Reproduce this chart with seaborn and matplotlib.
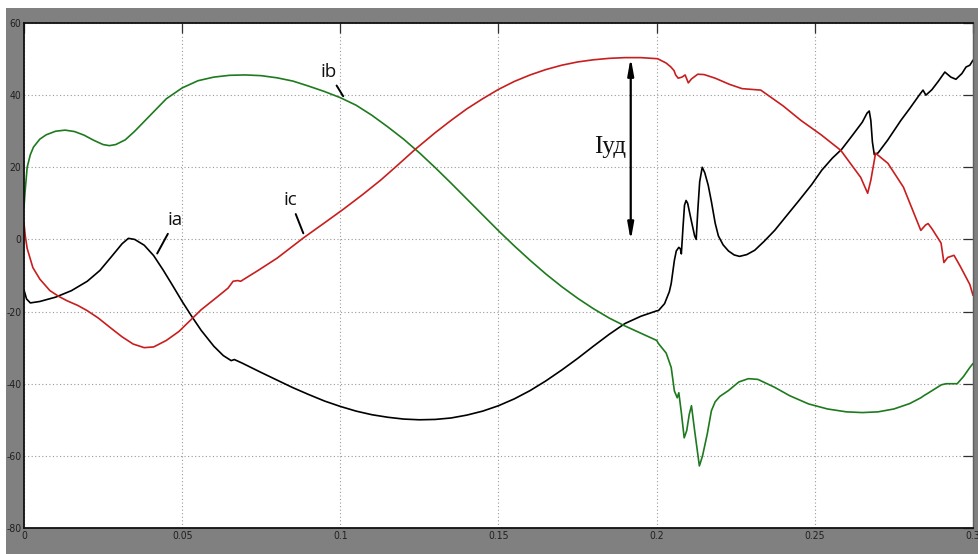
import numpy as np
import pandas as pd
import matplotlib
matplotlib.use("Agg")
import matplotlib.pyplot as plt
from matplotlib.patches import Rectangle
import seaborn as sns

# Phase currents of a short-circuit transient, time in seconds, current in amperes
t_a = [0.0000, 0.0008, 0.0020, 0.0050, 0.0100, 0.0150, 0.0200, 0.0240, 0.0280, 0.0310,
       0.0330, 0.0350, 0.0380, 0.0410, 0.0440, 0.0470, 0.0500, 0.0530, 0.0560, 0.0600,
       0.0630, 0.0655, 0.0665, 0.0690, 0.0750, 0.0800, 0.0850, 0.0900, 0.0950, 0.1000,
       0.1050, 0.1100, 0.1150, 0.1200, 0.1250, 0.1300, 0.1350, 0.1400, 0.1450, 0.1500,
       0.1550, 0.1600, 0.1650, 0.1700, 0.1750, 0.1800, 0.1850, 0.1900, 0.1950, 0.2000,
       0.2006, 0.2025, 0.2040, 0.2046, 0.2056, 0.2062, 0.2070, 0.2075, 0.2078, 0.2083,
       0.2088, 0.2093, 0.2098, 0.2110, 0.2120, 0.2125, 0.2130, 0.2136, 0.2144, 0.2152,
       0.2163, 0.2173, 0.2185, 0.2195, 0.2210, 0.2227, 0.2245, 0.2262, 0.2285, 0.2310,
       0.2340, 0.2373, 0.2410, 0.2450, 0.2490, 0.2522, 0.2555, 0.2585, 0.2620, 0.2650,
       0.2665, 0.2672, 0.2677, 0.2682, 0.2688, 0.2700, 0.2730, 0.2772, 0.2800, 0.2830,
       0.2842, 0.2851, 0.2870, 0.2890, 0.2911, 0.2930, 0.2946, 0.2965, 0.2978, 0.2990,
       0.3000]
i_a = [-14.0, -16.5, -17.6, -17.2, -16.0, -14.2, -11.6, -8.6, -4.4, -1.2,
       0.3, 0.0, -1.6, -4.5, -8.5, -12.8, -17.2, -21.3, -25.2, -29.6,
       -32.2, -33.6, -33.3, -34.3, -36.9, -39.0, -41.1, -43.0, -44.8, -46.3,
       -47.6, -48.6, -49.3, -49.8, -50.0, -49.9, -49.5, -48.7, -47.6, -46.1,
       -44.2, -41.9, -39.2, -36.2, -33.0, -29.6, -26.3, -23.3, -21.3, -19.8,
       -19.7, -17.8, -14.5, -12.2, -5.8, -3.2, -2.2, -2.6, -4.0, 3.0,
       9.5, 10.8, 10.0, 5.0, 1.0, 0.0, 8.0, 16.0, 20.0, 18.5,
       15.0, 10.5, 4.5, 1.0, -1.5, -3.2, -4.3, -4.7, -4.2, -3.0,
       -0.5, 2.5, 6.5, 10.8, 15.2, 19.2, 22.5, 25.0, 29.0, 32.5,
       35.0, 35.6, 33.0, 27.0, 23.5, 24.0, 27.5, 33.0, 36.3, 40.0,
       41.4, 40.0, 41.5, 43.8, 46.4, 45.0, 44.4, 46.0, 47.8, 48.3,
       49.7]

t_b = [0.0000, 0.0003, 0.0010, 0.0020, 0.0030, 0.0050, 0.0070, 0.0100, 0.0130, 0.0160,
       0.0190, 0.0220, 0.0250, 0.0270, 0.0290, 0.0320, 0.0350, 0.0400, 0.0450, 0.0500,
       0.0550, 0.0600, 0.0650, 0.0700, 0.0750, 0.0800, 0.0850, 0.0900, 0.0950, 0.1000,
       0.1050, 0.1100, 0.1150, 0.1200, 0.1250, 0.1300, 0.1350, 0.1400, 0.1450, 0.1500,
       0.1550, 0.1600, 0.1650, 0.1700, 0.1750, 0.1800, 0.1850, 0.1900, 0.1950, 0.2000,
       0.2006, 0.2030, 0.2046, 0.2056, 0.2065, 0.2070, 0.2078, 0.2087, 0.2095, 0.2103,
       0.2110, 0.2120, 0.2135, 0.2145, 0.2160, 0.2173, 0.2185, 0.2200, 0.2227, 0.2260,
       0.2290, 0.2320, 0.2373, 0.2420, 0.2480, 0.2540, 0.2600, 0.2650, 0.2700, 0.2750,
       0.2800, 0.2835, 0.2845, 0.2860, 0.2900, 0.2915, 0.2950, 0.2970, 0.2990, 0.3000]
i_b = [9.0, 12.8, 20.0, 23.5, 25.6, 27.8, 29.0, 30.0, 30.3, 29.9,
       28.9, 27.5, 26.3, 26.0, 26.3, 27.6, 30.0, 34.5, 39.0, 42.0,
       44.0, 45.0, 45.5, 45.6, 45.4, 44.8, 43.9, 42.5, 41.0, 39.3,
       37.2, 34.4, 31.2, 27.8, 24.0, 19.9, 15.6, 11.2, 6.8, 2.4,
       -1.8, -5.8, -9.6, -13.1, -16.3, -19.2, -21.8, -24.0, -26.0, -28.0,
       -28.9, -31.5, -35.5, -42.0, -43.9, -42.5, -48.0, -55.0, -53.0, -48.5,
       -46.1, -53.0, -62.8, -60.0, -53.9, -47.5, -45.0, -43.5, -41.9, -39.5,
       -38.6, -38.8, -41.0, -43.3, -45.6, -47.0, -47.8, -48.0, -47.8, -47.0,
       -45.5, -43.9, -43.3, -42.5, -40.3, -40.0, -40.0, -38.0, -35.5, -34.4]

t_c = [0.0000, 0.0004, 0.0010, 0.0028, 0.0050, 0.0082, 0.0110, 0.0136, 0.0170, 0.0199,
       0.0235, 0.0272, 0.0310, 0.0345, 0.0380, 0.0410, 0.0450, 0.0490, 0.0525, 0.0560,
       0.0610, 0.0645, 0.0661, 0.0675, 0.0685, 0.0740, 0.0800, 0.0883, 0.0950, 0.1010,
       0.1070, 0.1127, 0.1180, 0.1237, 0.1300, 0.1350, 0.1400, 0.1450, 0.1500, 0.1550,
       0.1600, 0.1650, 0.1700, 0.1750, 0.1800, 0.1850, 0.1900, 0.1950, 0.2003, 0.2030,
       0.2045, 0.2055, 0.2060, 0.2068, 0.2080, 0.2090, 0.2100, 0.2110, 0.2130, 0.2150,
       0.2185, 0.2230, 0.2270, 0.2329, 0.2400, 0.2456, 0.2520, 0.2582, 0.2645, 0.2667,
       0.2677, 0.2692, 0.2731, 0.2780, 0.2835, 0.2850, 0.2858, 0.2870, 0.2899, 0.2908,
       0.2920, 0.2940, 0.2960, 0.2978, 0.2990, 0.3000]
i_c = [4.5, 1.0, -2.5, -7.8, -11.0, -14.2, -15.8, -17.0, -18.3, -19.7,
       -21.8, -24.4, -27.0, -29.0, -30.0, -29.8, -28.0, -25.5, -22.5, -19.5,
       -16.0, -13.5, -11.6, -11.4, -11.6, -8.6, -5.2, 0.4, 4.6, 8.4,
       12.4, 16.4, 20.5, 25.0, 29.6, 33.0, 36.2, 39.0, 41.6, 43.8,
       45.6, 47.1, 48.3, 49.2, 49.8, 50.2, 50.4, 50.4, 50.1, 48.9,
       47.8, 46.8, 45.6, 44.7, 45.0, 45.6, 43.4, 44.5, 45.8, 45.7,
       44.7, 43.0, 41.8, 41.4, 37.0, 33.0, 29.0, 24.7, 17.2, 12.8,
       16.4, 23.9, 21.1, 14.5, 2.5, 4.0, 4.4, 3.0, -1.0, -6.4,
       -5.0, -4.4, -7.5, -10.5, -12.5, -15.5]

phases = ["ia", "ib", "ic"]
phase_colors = {"ia": "#000000", "ib": "#1e7a1e", "ic": "#c81e1e"}

x_ticks = [0, 0.05, 0.1, 0.15, 0.2, 0.25, 0.3]
x_tick_labels = ["0", "0.05", "0.1", "0.15", "0.2", "0.25", "0.3"]
y_ticks = [-80, -60, -40, -20, 0, 20, 40, 60]
y_tick_labels = ["-80", "-60", "-40", "-20", "0", "20", "40", "60"]

# Peak (surge) current marker: time and the current range it spans
t_peak = 0.1918
i_peak_top = 50.4
i_peak_bottom = -0.3

df = pd.concat([
    pd.DataFrame({"t": t_a, "i": i_a, "phase": "ia"}),
    pd.DataFrame({"t": t_b, "i": i_b, "phase": "ib"}),
    pd.DataFrame({"t": t_c, "i": i_c, "phase": "ic"}),
], ignore_index=True)

sns.set_style("white")
plt.rcParams["font.family"] = ["DejaVu Sans"]

W, H = 979, 554
fig = plt.figure(figsize=(W / 100, H / 100), dpi=100, facecolor="#808080")
# thin white margins along the top and left edges
fig.patches.append(Rectangle((0, 1 - 8 / H), 1, 8 / H, transform=fig.transFigure,
                             facecolor="white", edgecolor="none", zorder=-10))
fig.patches.append(Rectangle((0, 0), 6 / W, 1, transform=fig.transFigure,
                             facecolor="white", edgecolor="none", zorder=-10))

ax = fig.add_axes([24 / W, 26 / H, (973 - 24) / W, (528 - 23) / H])
ax.set_facecolor("white")

sns.lineplot(data=df, x="t", y="i", hue="phase", hue_order=phases, palette=phase_colors,
             estimator=None, sort=False, legend=False, linewidth=1.2, ax=ax)

ax.set_xlim(0, 0.3)
ax.set_ylim(-80, 60)
ax.set_xticks(x_ticks)
ax.set_xticklabels(x_tick_labels)
ax.set_yticks(y_ticks)
ax.set_yticklabels(y_tick_labels)
ax.set_xlabel("")
ax.set_ylabel("")

ax.grid(True, linestyle=(0, (1, 2.2)), color="#9a9a9a", linewidth=0.8)
ax.tick_params(direction="in", length=7, width=0.9, color="#303030",
               top=True, right=True, labelsize=7.5, labelcolor="#202020", pad=2)
for lab in ax.get_xticklabels() + ax.get_yticklabels():
    lab.set_fontstretch("condensed")
for side in ["left", "bottom", "top"]:
    ax.spines[side].set_color("#101010")
    ax.spines[side].set_linewidth(1.3)
ax.spines["right"].set_color("#606060")
ax.spines["right"].set_linewidth(1.0)

label_font = dict(fontsize=13.5, family=["Open Sans", "DejaVu Sans"], color="#111111")
leader = dict(arrowstyle="-", color="black", lw=1.4, shrinkA=1, shrinkB=0)
# Phase labels with short leader lines
ax.annotate("ia", xy=(0.0421, -3.9), xytext=(0.0478, 5.3), ha="center", va="center",
            arrowprops=leader, **label_font)
ax.annotate("ib", xy=(0.1009, 39.7), xytext=(0.0962, 46.4), ha="center", va="center",
            arrowprops=leader, **label_font)
ax.annotate("ic", xy=(0.0883, 1.7), xytext=(0.0842, 10.8), ha="center", va="center",
            arrowprops=leader, **label_font)

# Double-headed arrow for the surge current
ax.annotate("", xy=(t_peak, i_peak_top), xytext=(t_peak, i_peak_bottom),
            arrowprops=dict(arrowstyle="<|-|>,head_length=1.0,head_width=0.18",
                            color="black", lw=1.6, shrinkA=0, shrinkB=0))
ax.text(t_peak - 0.0064, 25.6, "Iуд", ha="center", va="center", fontsize=18,
        family=["Liberation Serif", "DejaVu Serif"], color="#111111")

fig.savefig("out.png", dpi=100, facecolor=fig.get_facecolor())
